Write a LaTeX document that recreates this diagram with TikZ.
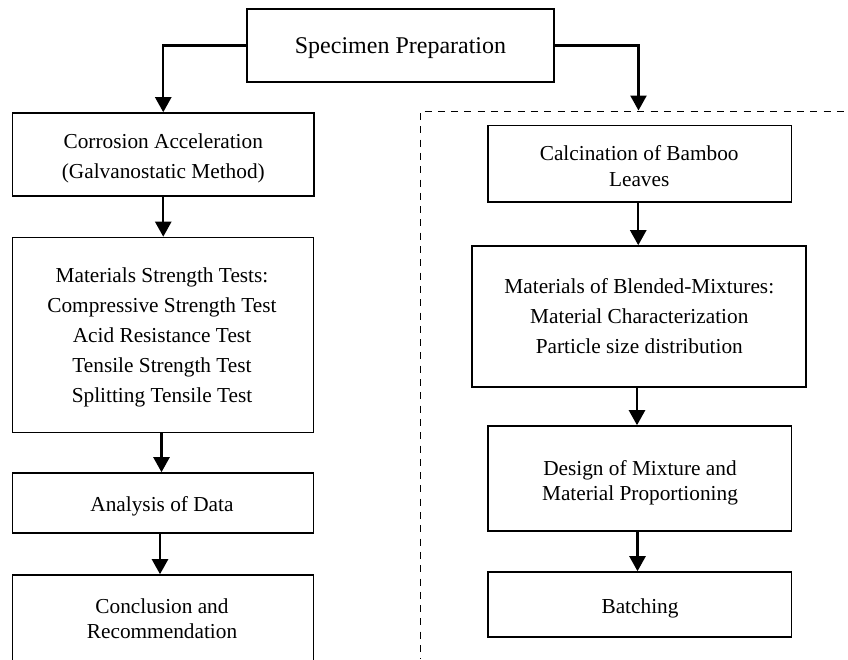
\documentclass[tikz,border=0pt]{standalone}
\usepackage{fontspec}
\setmainfont{Liberation Serif}
\usetikzlibrary{arrows.meta}
\begin{document}
\begin{tikzpicture}[x=1pt,y=-1pt,
  box/.style={draw,line width=1.6pt,inner sep=0pt},
  txt/.style={inner sep=0pt,align=center,anchor=north,font=\fontsize{21.3}{30}\selectfont},
  txtb/.style={inner sep=0pt,align=center,anchor=north,font=\fontsize{21.3}{25}\selectfont},
  txts/.style={inner sep=0pt,anchor=base,font=\fontsize{21.3}{25}\selectfont},
  conn/.style={line width=2.4pt,-{Triangle[width=16pt,length=15pt]}},
  sepline/.style={line width=1.6pt,dash pattern=on 7pt off 6.3pt}]
\useasboundingbox (0,0) rectangle (848,659);
\clip (0,0) rectangle (848,659);
% boxes
\node[box,minimum width=307pt,minimum height=73pt] (spec) at (400.5,45.5) {};
\node[box,minimum width=301.5pt,minimum height=83pt] (corr) at (163.25,154.5) {};
\node[box,minimum width=301pt,minimum height=195pt] (mst) at (163,335) {};
\node[box,minimum width=301pt,minimum height=60pt] (ana) at (163,503) {};
\node[box,minimum width=301pt,minimum height=125pt] (con) at (163,637.5) {};
\node[box,minimum width=303.5pt,minimum height=76.5pt] (calc) at (639.75,163.75) {};
\node[box,minimum width=334pt,minimum height=141pt] (blend) at (639,316.5) {};
\node[box,minimum width=303.5pt,minimum height=105pt] (design) at (639.75,478.5) {};
\node[box,minimum width=303.5pt,minimum height=65pt] (batch) at (639.75,604.5) {};
% texts
\node[inner sep=0pt,anchor=base,font=\fontsize{24}{28}\selectfont] (specT) at (400.5,53.3) {Specimen Preparation};
\node[txt] (corrT) at (163.3,133.8) {Corrosion Acceleration\\(Galvanostatic Method)};
\node[txt] (mstT) at (162,267.2) {Materials Strength Tests:\\Compressive Strength Test\\Acid Resistance Test\\Tensile Strength Test\\Splitting Tensile Test};
\node[txts] (anaT) at (162,511) {Analysis of Data};
\node[txtb] (conT) at (162,598.8) {Conclusion and\\Recommendation};
\node[txt,font=\fontsize{21.3}{26}\selectfont] (calcT) at (639.2,144.8) {Calcination of Bamboo\\Leaves};
\node[txt] (blendT) at (639.3,278.2) {Materials of Blended-Mixtures:\\Material Characterization\\Particle size distribution};
\node[txtb] (designT) at (640,460.5) {Design of Mixture and\\Material Proportioning};
\node[txts] (batchT) at (640,613.3) {Batching};
% dashed separator
\coordinate (sepC) at (420.5,111.5);
\coordinate (sepR) at (848,111.5);
\coordinate (sepB) at (420.5,659);
\coordinate (sepA) at (638.5,110.5);
\draw[sepline] ([xshift=4pt]sepC) -- (sepR);
\draw[sepline] ([yshift=-1.5pt]sepC) -- (sepB);
% connectors
\draw[conn] (spec.west) -| (corr.north);
\draw[conn] (spec.east) -| (sepA);
\draw[conn] (corr.south) -- (corr.south |- mst.north);
\draw[conn] ([xshift=-1.5pt]mst.south) -- ([xshift=-1.5pt]ana.north);
\draw[conn] ([xshift=-3pt]ana.south) -- ([xshift=-3pt]con.north);
\draw[conn] ([xshift=-1.5pt]calc.south) -- ([xshift=-1.5pt]calc.south |- blend.north);
\draw[conn] ([xshift=-2pt]blend.south) -- ([xshift=-2pt]blend.south |- design.north);
\draw[conn] ([xshift=-2.25pt]design.south) -- ([xshift=-2.25pt]batch.north);
\end{tikzpicture}
\end{document}
